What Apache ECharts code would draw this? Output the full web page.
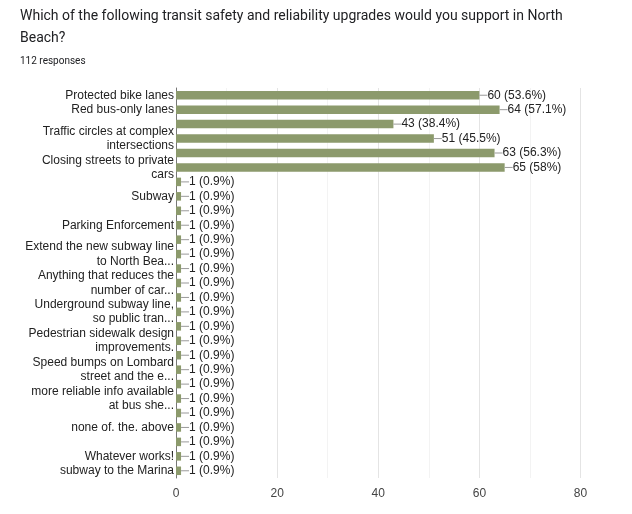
<!DOCTYPE html>
<html>
<head>
<meta charset="utf-8">
<script src="https://cdn.jsdelivr.net/npm/echarts@6/dist/echarts.min.js"></script>
<style>
html,body{margin:0;padding:0;background:#fff;}
#chart{width:632px;height:514px;}
</style>
</head>
<body>
<div id="chart"></div>
<script>
var titleText = 'Which of the following transit safety and reliability upgrades would you support in North\nBeach?';
var subtitleText = '112 responses';
var totalResponses = 112;
var categories = [
  'Protected bike lanes',
  'Red bus-only lanes',
  '',
  'Traffic circles at complex\nintersections',
  '',
  'Closing streets to private\ncars',
  '',
  'Subway',
  '',
  'Parking Enforcement',
  '',
  'Extend the new subway line\nto North Bea...',
  '',
  'Anything that reduces the\nnumber of car...',
  '',
  'Underground subway line,\nso public tran...',
  '',
  'Pedestrian sidewalk design\nimprovements.',
  '',
  'Speed bumps on Lombard\nstreet and the e...',
  '',
  'more reliable info available\nat bus she...',
  '',
  'none of. the. above',
  '',
  'Whatever works!',
  'subway to the Marina'
];
var values = [60, 64, 43, 51, 63, 65, 1, 1, 1, 1, 1, 1, 1, 1, 1, 1, 1, 1, 1, 1, 1, 1, 1, 1, 1, 1, 1];
var xTicks = [0, 20, 40, 60, 80];

var chart = echarts.init(document.getElementById('chart'));
var font = 'Liberation Sans, Arial, sans-serif';
chart.setOption({
  animation: false,
  title: [
    {text: titleText, left: 15, top: 0, textStyle: {fontFamily: 'Roboto', fontSize: 14, fontWeight: 'normal', color: '#202124', lineHeight: 22}},
    {text: subtitleText, left: 15, top: 51, textStyle: {fontFamily: 'Roboto', fontSize: 10, fontWeight: 'normal', color: '#202124'}}
  ],
  grid: {left: 176, right: 51.5, top: 88, bottom: 36, containLabel: false},
  xAxis: {
    type: 'value', min: 0, max: 80, interval: 10,
    axisLine: {show: false}, axisTick: {show: false},
    axisLabel: {
      color: '#444', fontFamily: font, fontSize: 12, margin: 10,
      formatter: function (v) { return xTicks.indexOf(v) >= 0 ? String(v) : ''; }
    },
    splitLine: {show: true, lineStyle: {color: ['#e4e4e4', '#f3f3f3'], width: 1}}
  },
  yAxis: {
    type: 'category', inverse: true, data: categories,
    axisLine: {show: true, lineStyle: {color: '#777', width: 1}},
    axisTick: {show: false},
    axisLabel: {interval: 0, color: '#222', fontFamily: font, fontSize: 12, lineHeight: 14.5, margin: 2, align: 'right'}
  },
  series: [{
    type: 'bar', data: values, barCategoryGap: '41%',
    itemStyle: {color: '#8c9a6c'},
    label: {
      show: true, position: 'right', distance: 0,
      fontFamily: font, fontSize: 12, color: '#222',
      formatter: function (p) {
        var pct = Math.round(p.value / totalResponses * 1000) / 10;
        return '{ln|}{t|' + p.value + ' (' + pct + '%)}';
      },
      rich: {
        ln: {width: 8, height: 1, backgroundColor: '#999'},
        t: {fontFamily: font, fontSize: 12, color: '#222'}
      }
    }
  }]
});
</script>
</body>
</html>
